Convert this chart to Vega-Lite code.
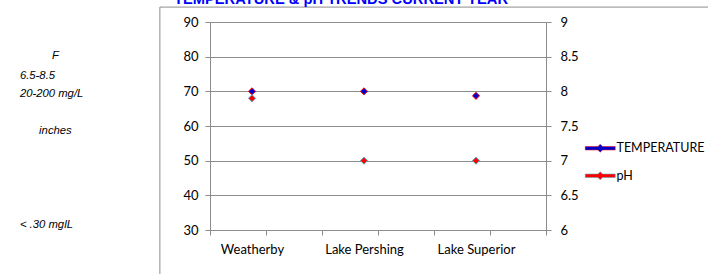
{
  "$schema": "https://vega.github.io/schema/vega-lite/v6.json",
  "width": 336,
  "height": 208,
  "autosize": {"type": "none"},
  "padding": {"left": 210, "top": 22, "right": 162, "bottom": 44},
  "background": "white",
  "title": {
    "text": "TEMPERATURE & pH TRENDS CURRENT YEAR",
    "anchor": "start",
    "frame": "group",
    "dx": -36,
    "dy": 14,
    "offset": 2,
    "baseline": "alphabetic",
    "color": "#0000FF",
    "font": "Liberation Sans",
    "fontSize": 14.7,
    "fontWeight": "bold"
  },
  "config": {
    "view": {"stroke": null},
    "axis": {
      "labelFont": "Lato",
      "labelFontSize": 13,
      "labelColor": "#000000",
      "domainColor": "#8c8c8c",
      "tickColor": "#8c8c8c",
      "gridColor": "#8c8c8c",
      "tickSize": 5,
      "title": null
    }
  },
  "datasets": {
    "main": [
      {"site": "Weatherby", "series": "TEMPERATURE", "value": 70},
      {"site": "Lake Pershing", "series": "TEMPERATURE", "value": 70},
      {"site": "Lake Superior", "series": "TEMPERATURE", "value": 68.7},
      {"site": "Weatherby", "series": "pH", "value": 7.9},
      {"site": "Lake Pershing", "series": "pH", "value": 7},
      {"site": "Lake Superior", "series": "pH", "value": 7}
    ],
    "frame": [
      {"x": -1.79, "x2": -1.79, "y": 94.3, "y2": 10},
      {"x": -1.79, "x2": 18, "y": 94.3, "y2": 94.3}
    ],
    "notesLeft": [
      {"label": "6.5-8.5", "x": -6.79, "y": 74.5},
      {"label": "20-200 mg/L", "x": -6.79, "y": 69.2},
      {"label": "< .30 mglL", "x": -6.79, "y": 31.4}
    ],
    "notesCenter": [
      {"label": "F", "x": -5.52, "y": 80.3},
      {"label": "inches", "x": -5.52, "y": 58.6}
    ]
  },
  "layer": [
    {
      "layer": [
        {
          "data": {"name": "frame"},
          "mark": {"type": "rule", "color": "#8c8c8c", "strokeWidth": 1},
          "encoding": {
            "x": {
              "field": "x", "type": "quantitative",
              "scale": {"domain": [0, 12], "nice": false, "zero": false},
              "axis": {
                "orient": "bottom",
                "values": [0, 1, 2, 3, 4, 5, 6, 7, 8, 9, 10, 11, 12],
                "labels": false, "grid": false, "ticks": true, "domain": true
              }
            },
            "x2": {"field": "x2"},
            "y": {
              "field": "y", "type": "quantitative",
              "scale": {"domain": [30, 90], "nice": false, "zero": false},
              "axis": null
            },
            "y2": {"field": "y2"}
          }
        },
        {
          "data": {"name": "notesLeft"},
          "mark": {"type": "text", "align": "left", "baseline": "middle", "font": "Liberation Sans", "fontStyle": "italic", "fontSize": 11.3, "color": "#000000"},
          "encoding": {
            "x": {"field": "x", "type": "quantitative"},
            "y": {"field": "y", "type": "quantitative"},
            "text": {"field": "label"}
          }
        },
        {
          "data": {"name": "notesCenter"},
          "mark": {"type": "text", "align": "center", "baseline": "middle", "font": "Liberation Sans", "fontStyle": "italic", "fontSize": 11.3, "color": "#000000"},
          "encoding": {
            "x": {"field": "x", "type": "quantitative"},
            "y": {"field": "y", "type": "quantitative"},
            "text": {"field": "label"}
          }
        }
      ]
    },
    {
      "data": {"name": "main"},
      "transform": [{"filter": "datum.series === 'TEMPERATURE'"}],
      "mark": {"type": "point", "shape": "diamond", "filled": true, "size": 50, "strokeWidth": 1, "opacity": 1},
      "encoding": {
        "x": {
          "field": "site", "type": "nominal", "sort": null,
          "scale": {"type": "point", "domain": ["Weatherby", "Lake Pershing", "Lake Superior"], "padding": 0.5, "align": 0.375},
          "axis": {"orient": "bottom", "ticks": false, "domain": false, "grid": false, "labelAngle": 0, "labelPadding": 13}
        },
        "y": {
          "field": "value", "type": "quantitative",
          "scale": {"domain": [30, 90], "nice": false, "zero": false},
          "axis": {"orient": "left", "values": [30, 40, 50, 60, 70, 80, 90], "grid": true, "labelPadding": 7}
        },
        "fill": {
          "field": "series", "type": "nominal",
          "scale": {"domain": ["TEMPERATURE", "pH"], "range": ["#0000CC", "#FF0000"]},
          "legend": {"title": null, "orient": "none", "legendX": 384, "legendY": 120, "padding": 0, "symbolType": "M-3.75,-0.44L-0.56,-0.44L0,-1L0.56,-0.44L3.75,-0.44L3.75,0.44L0.56,0.44L0,1L-0.56,0.44L-3.75,0.44Z", "symbolSize": 64, "symbolStrokeWidth": 0.5, "labelOffset": 10, "labelFont": "Lato", "labelFontSize": 12.5, "labelColor": "#000000", "rowPadding": 14.5}
        },
        "stroke": {
          "field": "series", "type": "nominal",
          "scale": {"domain": ["TEMPERATURE", "pH"], "range": ["#FF0000", "#4BACC6"]},
          "legend": {"title": null, "orient": "none", "legendX": 384, "legendY": 120, "padding": 0, "symbolType": "M-3.75,-0.44L-0.56,-0.44L0,-1L0.56,-0.44L3.75,-0.44L3.75,0.44L0.56,0.44L0,1L-0.56,0.44L-3.75,0.44Z", "symbolSize": 64, "symbolStrokeWidth": 0.5, "labelOffset": 10, "labelFont": "Lato", "labelFontSize": 12.5, "labelColor": "#000000", "rowPadding": 14.5}
        }
      }
    },
    {
      "data": {"name": "main"},
      "transform": [{"filter": "datum.series === 'pH'"}],
      "mark": {"type": "point", "shape": "diamond", "filled": true, "size": 50, "strokeWidth": 1, "opacity": 1},
      "encoding": {
        "x": {
          "field": "site", "type": "nominal", "sort": null,
          "scale": {"type": "point", "domain": ["Weatherby", "Lake Pershing", "Lake Superior"], "padding": 0.5, "align": 0.375},
          "axis": null
        },
        "y": {
          "field": "value", "type": "quantitative",
          "scale": {"domain": [6, 9], "nice": false, "zero": false},
          "axis": {"orient": "right", "values": [6, 6.5, 7, 7.5, 8, 8.5, 9], "format": "~g", "grid": false, "labelPadding": 9}
        },
        "fill": {"field": "series", "type": "nominal"},
        "stroke": {"field": "series", "type": "nominal"}
      }
    }
  ],
  "resolve": {"scale": {"x": "independent", "y": "independent"}}
}
